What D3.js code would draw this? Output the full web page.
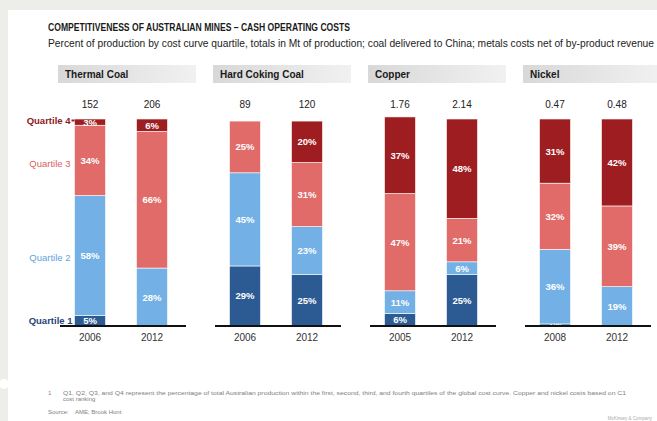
<!DOCTYPE html>
<html>
<head>
<meta charset="utf-8">
<script src="https://cdn.jsdelivr.net/npm/d3@7"></script>
<style>
  html, body { margin: 0; padding: 0; background: #edede9; }
  svg { display: block; }
</style>
</head>
<body>
<svg id="chart" width="657" height="421"></svg>
<script>
// ---- data ----
const panels = ["Thermal Coal", "Hard Coking Coal", "Copper", "Nickel"];
const years = [["2006", "2012"], ["2006", "2012"], ["2005", "2012"], ["2008", "2012"]];
const totals = [["152", "206"], ["89", "120"], ["1.76", "2.14"], ["0.47", "0.48"]];
const quartiles = ["Quartile 1", "Quartile 2", "Quartile 3", "Quartile 4"];
// values per bar, in order: TC 2006, TC 2012, HCC 2006, HCC 2012, Cu 2005, Cu 2012, Ni 2008, Ni 2012
const q1 = [5, 0, 29, 25, 6, 25, 1, 0];
const q2 = [58, 28, 45, 23, 11, 6, 36, 19];
const q3 = [34, 66, 25, 31, 47, 21, 32, 39];
const q4 = [3, 6, 0, 20, 37, 48, 31, 42];
const title = "COMPETITIVENESS OF AUSTRALIAN MINES \u2013 CASH OPERATING COSTS";
const subtitle = "Percent of production by cost curve quartile, totals in Mt of production; coal delivered to China; metals costs net of by-product revenue";
const footnote1 = "Q1, Q2, Q3, and Q4 represent the percentage of total Australian production within the first, second, third, and fourth quartiles of the global cost curve. Copper and nickel costs based on C1";
const footnote2 = "cost ranking";
const sourceText = "AME; Brook Hunt";

// ---- styles ----
const colors = ["#2c5b94", "#72b0e5", "#e06b69", "#9e1d21"];
const labelColors = ["#1f4678", "#5fa3dc", "#dc5f5f", "#8e1a1e"];
const sans = "'Liberation Sans', Arial, sans-serif";

const svg = d3.select("#chart");

// frame
svg.append("rect").attr("x", 0).attr("y", 0).attr("width", 657).attr("height", 421).attr("fill", "#edede9");
svg.append("rect").attr("x", 8).attr("y", 10).attr("width", 649).attr("height", 411).attr("fill", "#ffffff");
svg.append("circle").attr("cx", 4).attr("cy", 384).attr("r", 5).attr("fill", "#ffffff");

// titles
svg.append("text").attr("x", 48).attr("y", 31)
  .attr("font-family", sans).attr("font-weight", "bold").attr("font-size", 11)
  .attr("textLength", 302).attr("lengthAdjust", "spacingAndGlyphs")
  .attr("fill", "#1a1a1a").text(title);
svg.append("text").attr("x", 48).attr("y", 47)
  .attr("font-family", sans).attr("font-size", 10)
  .attr("textLength", 606).attr("lengthAdjust", "spacingAndGlyphs")
  .attr("fill", "#222").text(subtitle);

// scales
const xPanel = d3.scaleBand().domain(panels).range([45, 665]).paddingInner(0).paddingOuter(0);
const xBar = d3.scalePoint().domain([0, 1]).range([45, 107]);
const y = d3.scaleLinear().domain([0, 100]).range([326, 119]);
const barW = 31;

const defs = svg.append("defs");
const grad = defs.append("linearGradient").attr("id", "hdr").attr("x1", "0%").attr("x2", "100%");
grad.append("stop").attr("offset", "0%").attr("stop-color", "#d8d8d8");
grad.append("stop").attr("offset", "100%").attr("stop-color", "#f1f1f1");

panels.forEach((p, pi) => {
  const g = svg.append("g").attr("transform", `translate(${xPanel(p)},0)`);
  // header
  g.append("rect").attr("x", 13).attr("y", 65).attr("width", 138).attr("height", 18).attr("fill", "url(#hdr)");
  g.append("text").attr("x", 20).attr("y", 78)
    .attr("font-family", sans).attr("font-weight", "bold").attr("font-size", 10)
    .attr("fill", "#1a1a1a").text(p);

  [0, 1].forEach(bi => {
    const idx = pi * 2 + bi;
    const vals = [q1[idx], q2[idx], q3[idx], q4[idx]];
    const cx = xBar(bi);
    let cum = 0;
    vals.forEach((v, qi) => {
      const y0 = cum, y1 = cum + v;
      cum = y1;
      if (v <= 0) return;
      g.append("rect")
        .attr("x", cx - barW / 2).attr("width", barW)
        .attr("y", y(y1)).attr("height", y(y0) - y(y1))
        .attr("fill", colors[qi])
        .attr("stroke", "#ffffff").attr("stroke-width", 0.6);
      g.append("text")
        .attr("x", cx).attr("y", (y(y0) + y(y1)) / 2 + 3.5)
        .attr("text-anchor", "middle")
        .attr("font-family", sans).attr("font-weight", "bold").attr("font-size", 9.5)
        .attr("fill", "#ffffff").text(v + "%");
    });
    // total
    g.append("text").attr("x", cx).attr("y", 108).attr("text-anchor", "middle")
      .attr("font-family", sans).attr("font-size", 10).attr("fill", "#222").text(totals[pi][bi]);
    // year
    g.append("text").attr("x", cx).attr("y", 341).attr("text-anchor", "middle")
      .attr("font-family", sans).attr("font-size", 10).attr("fill", "#333").text(years[pi][bi]);
  });
  // baseline
  g.append("line").attr("x1", 15).attr("x2", 141).attr("y1", y(0)).attr("y2", y(0))
    .attr("stroke", "#111").attr("stroke-width", 1.8);
});

// quartile labels on first panel
const firstX = xPanel(panels[0]) + xBar(0) - barW / 2;
const qLabelY = [
  (y(0) + y(q1[0])) / 2,
  (y(q1[0]) + y(q1[0] + q2[0])) / 2 + 2,
  y(q1[0] + q2[0] + q3[0]) + 38,
  y(100) + 1.5
];
quartiles.forEach((q, qi) => {
  svg.append("text").attr("x", firstX - 4 + (qi === 0 ? 2 : 0)).attr("y", qLabelY[qi] + 3.5)
    .attr("text-anchor", "end")
    .attr("font-family", sans).attr("font-weight", (qi === 0 || qi === 3) ? "bold" : "normal")
    .attr("font-size", 9.5).attr("fill", labelColors[qi]).text(q);
});
svg.append("line").attr("x1", firstX - 3).attr("x2", firstX).attr("y1", y(100) + 1.5).attr("y2", y(100) + 1.5)
  .attr("stroke", colors[3]).attr("stroke-width", 2);

// footnotes
const fn = (x, yy, t, len) => {
  const s = svg.append("text").attr("x", x).attr("y", yy).attr("font-family", sans)
    .attr("font-size", 6).attr("fill", "#808080").text(t);
  if (len) s.attr("textLength", len).attr("lengthAdjust", "spacingAndGlyphs");
};
fn(48, 395, "1");
fn(63, 395, footnote1, 563);
fn(63, 401, footnote2);
fn(48, 414, "Source:");
fn(75, 414, sourceText);
svg.append("text").attr("x", 652).attr("y", 420).attr("text-anchor", "end").attr("font-family", sans)
  .attr("font-size", 4.5).attr("fill", "#aaa").text("McKinsey & Company");
</script>
</body>
</html>
